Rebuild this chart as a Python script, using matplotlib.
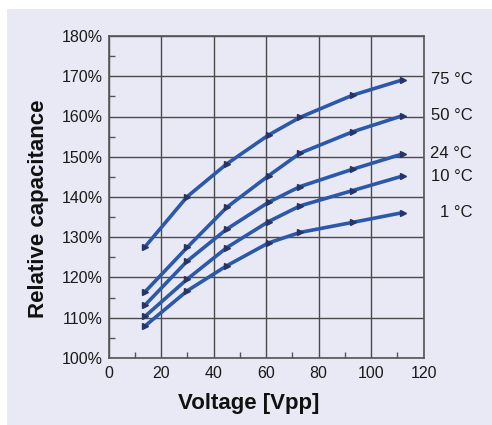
import matplotlib.pyplot as plt
from matplotlib.patches import Rectangle
from matplotlib.ticker import MultipleLocator, FuncFormatter

plt.rcParams['font.family'] = ['Liberation Sans', 'DejaVu Sans']

voltage = [14, 30, 45, 61, 73, 93, 112]
cap_75 = [127.7, 140.1, 148.2, 155.4, 159.8, 165.3, 169.1]
cap_50 = [116.5, 127.5, 137.4, 145.3, 150.9, 156.2, 160.2]
cap_24 = [113.2, 124.1, 132.0, 138.7, 142.6, 146.9, 150.7]
cap_10 = [110.4, 119.6, 127.4, 133.9, 137.8, 141.6, 145.2]
cap_1 = [108.0, 116.7, 122.9, 128.6, 131.2, 133.7, 136.1]
series = [cap_75, cap_50, cap_24, cap_10, cap_1]
labels = ['75 °C', '50 °C', '24 °C', '10 °C', '1 °C']

bg = '#e8e9f5'
fig = plt.figure(figsize=(4.92, 4.25), dpi=100, facecolor='white')
fig.patches.append(Rectangle((7 / 492, 0), 1, 1 - 9 / 425, transform=fig.transFigure,
                             facecolor=bg, edgecolor='none', zorder=-10))
ax = fig.add_axes([108.5 / 492, 1 - 358 / 425, (423.5 - 108.5) / 492, (358 - 36) / 425])
ax.set_facecolor(bg)

for ys, lab in zip(series, labels):
    ax.plot(voltage, ys, color='#2b58ab', lw=2.6, solid_capstyle='round', zorder=3)
    ax.plot(voltage, ys, ls='none', marker='>', ms=4.5, color='#283463', zorder=4)
    ax.text(138.6, ys[-1], lab, ha='right', va='center', fontsize=12,
            color='#1a1a1a', clip_on=False)

ax.set_xlim(0, 120)
ax.set_ylim(100, 180)
ax.xaxis.set_major_locator(MultipleLocator(20))
ax.xaxis.set_minor_locator(MultipleLocator(10))
ax.yaxis.set_major_locator(MultipleLocator(10))
ax.yaxis.set_minor_locator(MultipleLocator(5))
ax.yaxis.set_major_formatter(FuncFormatter(lambda v, p: f'{v:.0f}%'))
ax.grid(True, which='major', color='#4a4a4a', lw=1.0, zorder=1)
ax.tick_params(which='both', direction='in', color='#555555', labelsize=11.5,
               labelcolor='#1a1a1a')
ax.tick_params(which='major', length=0)
ax.tick_params(axis='x', which='major', pad=6)
ax.tick_params(axis='y', which='major', pad=4)
ax.tick_params(which='minor', length=4, width=1)
for s in ax.spines.values():
    s.set_color('#555555')
    s.set_linewidth(1.2)

ax.set_xlabel('Voltage [Vpp]', fontsize=16, fontweight='bold', color='#111111')
ax.set_ylabel('Relative capacitance', fontsize=16, fontweight='bold', color='#111111')
ax.xaxis.set_label_coords(0.446, -0.108)
ax.yaxis.set_label_coords(-0.19, 0.463)

fig.savefig('out.png', dpi=100, facecolor='white')
